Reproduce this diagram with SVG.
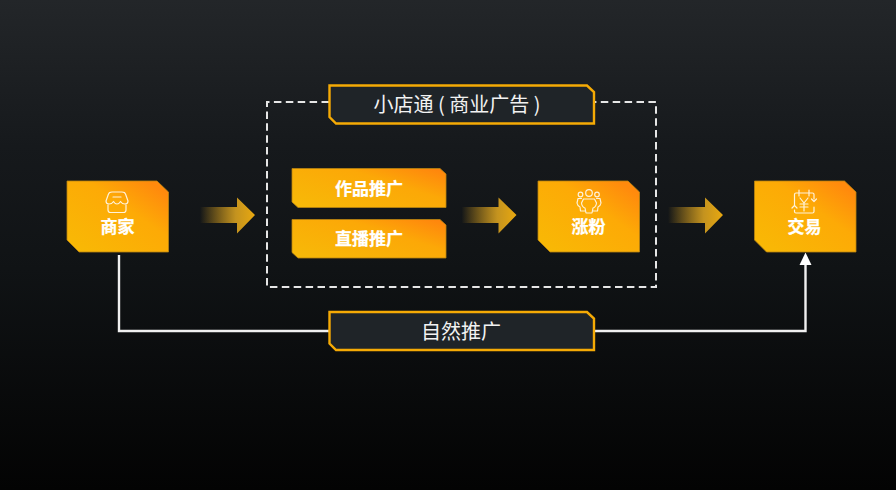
<svg xmlns="http://www.w3.org/2000/svg" width="896" height="490" viewBox="0 0 896 490">
<style>
.node{fill:url(#ng);stroke:#b98410;stroke-width:.8}
.small{fill:url(#ns);stroke:#b98410;stroke-width:.8}
.lab{fill:#fff;stroke:#fff;stroke-width:.25;font:bold 17px "Noto Sans CJK SC","Liberation Sans",sans-serif;text-anchor:middle}
.tag{fill:#1f2428;stroke:#f5aa05;stroke-width:2.4}
.tagt{fill:#f2f2f2;font:20px "Noto Sans CJK SC","Liberation Sans",sans-serif;text-anchor:middle}
.ic{fill:none;stroke:#fff;stroke-width:1.2;opacity:.85;stroke-linejoin:round;stroke-linecap:round}
.line{fill:none;stroke:#f0f0f0;stroke-width:2.4}
.dash{fill:none;stroke:#e6e6e6;stroke-width:2;stroke-dasharray:7.5 4.4}
</style>
<defs>
<linearGradient id="bg" x1="0" y1="0" x2="0" y2="1"><stop offset="0" stop-color="#232629"/><stop offset=".3" stop-color="#16191c"/><stop offset=".55" stop-color="#101315"/><stop offset="1" stop-color="#030303"/></linearGradient>
<linearGradient id="ng" x1="0" y1="1" x2="1" y2="0"><stop offset="0" stop-color="#f8ba05"/><stop offset=".6" stop-color="#fdaa06"/><stop offset=".9" stop-color="#ff8a0d"/></linearGradient>
<linearGradient id="ns" gradientUnits="objectBoundingBox" x1="0" y1=".9" x2="1" y2=".1"><stop offset="0" stop-color="#f7b908"/><stop offset=".65" stop-color="#fca807"/><stop offset="1" stop-color="#ff860d"/></linearGradient>
<linearGradient id="ag" x1="0" y1="0" x2="1" y2="0"><stop offset="0" stop-color="#e0a51c" stop-opacity="0"/><stop offset=".65" stop-color="#c4931f"/><stop offset="1" stop-color="#e8a810"/></linearGradient>
<path id="big" d="M0 0H90L101.500 11V71H12L0 59Z"/>
<path id="arr" d="M0 26V42H37V52.500L55 34L37 16.500V26Z"/>
</defs>
<rect id="background" width="896" height="490" fill="url(#bg)"/>
<g id="connectors">
<path class="dash" d="M329 102H267V287H656V102H594"/>
<path class="line" d="M119 255V331H330M594 331H805.500V264"/>
<path d="M805.500 252.500L811.500 265H799.500Z" fill="#fff"/>
<use href="#arr" transform="translate(200 181)" fill="url(#ag)"/>
<use href="#arr" transform="translate(461.500 181)" fill="url(#ag)"/>
<use href="#arr" transform="translate(668 181)" fill="url(#ag)"/>
</g>
<g id="node-shangjia">
<use href="#big" class="node" transform="translate(67 181)"/>
<path class="ic" d="M112 192H122Q125 192 125.500 194L128 201Q128 204 125 204Q122 204 120.500 201.500Q119 204 117 204Q115 204 113.500 201.500Q112 204 109 204Q106 204 106 201L108.500 194Q109 192 112 192ZM113 197H121M108 205V210Q108 212.500 110.500 212.500H123.500Q126 212.500 126 210V205"/>
<text class="lab" x="117.500" y="233">商家</text>
</g>
<g id="node-tag-ad">
<path class="tag" d="M329.500 85.500H587L594 92V123.500H336L329.500 117Z"/>
<text class="tagt" x="457" y="112">小店通 ( 商业广告 )</text>
</g>
<g id="node-works">
<path class="small" d="M292 168.500H440L446 174V207.500H298L292 202Z"/>
<text class="lab" x="369" y="195">作品推广</text>
</g>
<g id="node-live">
<path class="small" d="M292 219.500H440L446 225V258H298L292 252.500Z"/>
<text class="lab" x="369" y="245">直播推广</text>
</g>
<g id="node-fans">
<use href="#big" class="node" transform="translate(538 181)"/>
<g class="ic">
<circle cx="589" cy="193" r="3.300"/><circle cx="580.500" cy="194.500" r="2.300"/><circle cx="597" cy="194.500" r="2.300"/>
<path d="M583.500 199H594.500L596.500 203Q596 207 593 208L592 213H586L585 208Q582 207 581.500 203ZM581.500 198.500H578L577 203Q577.500 206 580 207L580.500 211H585M596.500 198.500H600L601 203Q600.500 206 598 207L597.500 211H593"/>
</g>
<text class="lab" x="588.500" y="233">涨粉</text>
</g>
<g id="node-deal">
<use href="#big" class="node" transform="translate(754.500 181)"/>
<g class="ic">
<path d="M794.500 205V194.500Q794.500 193 796 193H812.500Q814 193 814 194.500V199M814 207V211.500Q814 213 812.500 213H796Q794.500 213 794.500 211.500V210M799 190V196M809 190V196M800 198L804 203L808 198M800 204H808M800 207H808M804 203V211M811.500 199L814 201.500L816.500 199M792 208L794.500 205.500L797 208"/>
</g>
<text class="lab" x="804.500" y="233">交易</text>
</g>
<g id="node-tag-organic">
<path class="tag" d="M329.500 312H587L594 318.500V350H336L329.500 343.500Z"/>
<text class="tagt" x="461" y="338.500">自然推广</text>
</g>
</svg>
